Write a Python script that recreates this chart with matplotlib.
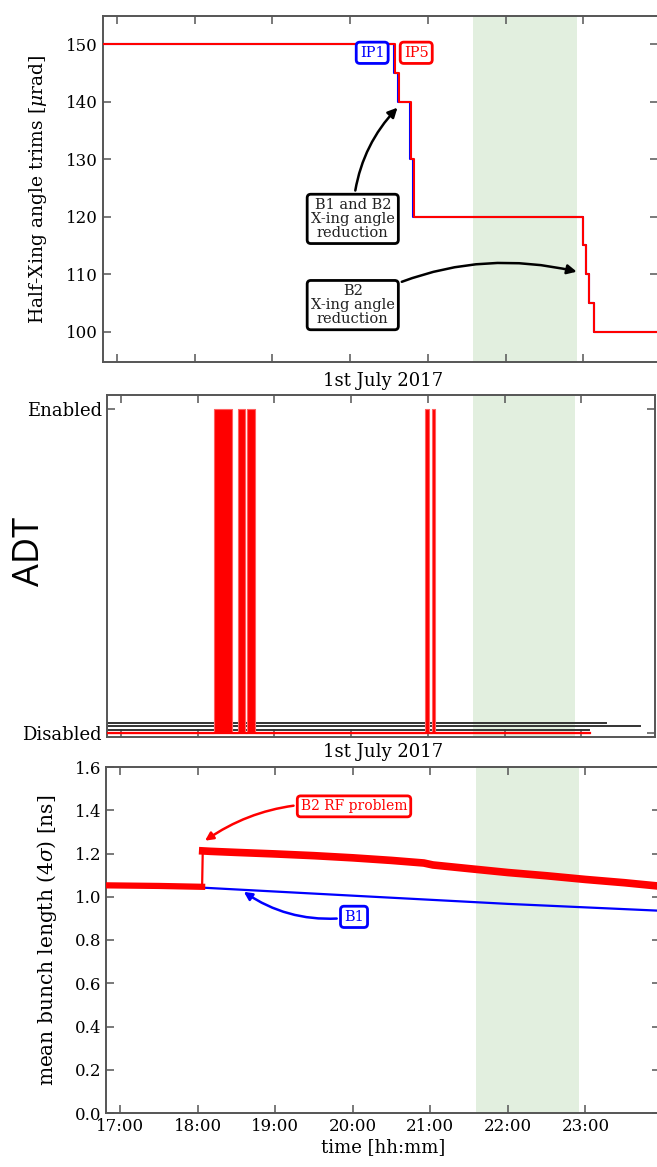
import matplotlib
matplotlib.use("Agg")
import matplotlib.pyplot as plt
import matplotlib.dates as mdates
import pandas as pd

plt.rcParams["font.family"] = ["DejaVu Serif"]
plt.rcParams["mathtext.fontset"] = "dejavuserif"

DAY = "2017-07-01 "


def T(lst):
    return pd.to_datetime([DAY + s for s in lst], format="mixed")


# ---------------- data ----------------
# Top panel: half crossing-angle trims [urad]
ip5_times = ["16:40:00", "20:34:20", "20:37:40", "20:46:50", "20:49:10",
             "23:00:00", "23:02:20", "23:04:40", "23:08:30", "23:59:59"]
ip5_vals = [150, 145, 140, 130, 120, 115, 110, 105, 100, 100]
ip1_times = ["16:40:00", "20:33:30", "20:37:00", "20:46:00", "20:48:30",
             "23:00:00", "23:02:20", "23:04:40", "23:08:30", "23:59:59"]
ip1_vals = [150, 145, 140, 130, 120, 115, 110, 105, 100, 100]

# Middle panel: ADT enabled intervals
adt_on = ["18:13:00", "18:31:40", "18:38:40", "20:57:30", "21:03:00"]
adt_off = ["18:27:00", "18:37:00", "18:44:50", "21:01:20", "21:06:00"]
adt_end = "23:07:00"
other_levels = [0.031, 0.022, 0.009]
other_ends = ["23:19:00", "23:46:00", "23:06:00"]
adt_ticks = [0, 1]
adt_ticklabels = ["Disabled", "Enabled"]

# Bottom panel: mean bunch length [ns]
b2_times = ["16:45:00", "17:30:00", "18:03:30", "18:04:00", "18:10:00", "18:30:00",
            "19:00:00", "19:30:00", "20:00:00", "20:30:00", "20:55:00", "21:02:00",
            "21:30:00", "22:00:00", "22:30:00", "23:00:00", "23:30:00", "23:59:00"]
b2_vals = [1.053, 1.050, 1.046, 1.212, 1.210, 1.205, 1.198, 1.190, 1.180,
           1.168, 1.156, 1.147, 1.130, 1.112, 1.097, 1.080, 1.065, 1.048]
JUMP = 3  # index where the B2 bunch length jumps
b1_times = ["16:45:00", "18:04:00", "20:00:00", "22:00:00", "23:59:00"]
b1_vals = [1.048, 1.042, 1.005, 0.967, 0.935]

band = ["21:35:00", "22:55:00"]
xlim = ["16:49:10", "23:57:40"]
hour_ticks = ["17:00:00", "18:00:00", "19:00:00", "20:00:00", "21:00:00",
              "22:00:00", "23:00:00"]

# ---------------- figure ----------------
W, H = 657, 1167
fig = plt.figure(figsize=(W / 100, H / 100), dpi=100)


def pos(l, r, t, b):
    return [l / W, 1 - b / H, (r - l) / W, (b - t) / H]


ax1 = fig.add_axes(pos(103, 658, 16, 362))
ax2 = fig.add_axes(pos(107, 655, 395, 737))
ax3 = fig.add_axes(pos(106, 660, 767, 1113))

SPC = "#555555"
for ax in (ax1, ax2, ax3):
    for s in ax.spines.values():
        s.set_color(SPC)
        s.set_linewidth(1.4)
    ax.tick_params(direction="in", top=True, right=True, length=6,
                   width=1.1, color=SPC, labelsize=12)
    ax.set_xlim(T(xlim))
    ax.set_xticks(T(hour_ticks))
    ax.xaxis.set_major_formatter(mdates.DateFormatter("%H:%M"))
    b = T(band)
    ax.axvspan(b[0], b[1], color="#e2efdf", zorder=0, lw=0)

# ---- top ----
ax1.step(T(ip1_times), ip1_vals, where="post", color="blue", lw=1.5, zorder=2)
ax1.step(T(ip5_times), ip5_vals, where="post", color="red", lw=1.5, zorder=3)
ax1.set_ylim(94.7, 154.9)
ax1.set_yticks([100, 110, 120, 130, 140, 150])
ax1.tick_params(labelbottom=False)
ax1.set_ylabel(r"Half-Xing angle trims [$\mu$rad]", fontsize=13.5)
ax1.yaxis.set_label_coords(-0.098, 0.5)

box = dict(boxstyle="round,pad=0.25", fc="white", lw=2)
ax1.text(T(["20:17:00"])[0], 148.5, "IP1", color="blue", fontsize=10.5,
         ha="center", va="center", bbox=dict(box, ec="blue"))
ax1.text(T(["20:51:00"])[0], 148.5, "IP5", color="red", fontsize=10.5,
         ha="center", va="center", bbox=dict(box, ec="red"))
ax1.annotate("B1 and B2\nX-ing angle\nreduction",
             xy=(T(["20:38:00"])[0], 139.3), xytext=(T(["20:02:00"])[0], 119.6),
             fontsize=10.5, ha="center", va="center", color="#222222",
             linespacing=1.0, bbox=dict(box, ec="black"),
             arrowprops=dict(arrowstyle="-|>", color="black", lw=1.8,
                             mutation_scale=14,
                             connectionstyle="arc3,rad=-0.2"))
ax1.annotate("B2\nX-ing angle\nreduction",
             xy=(T(["22:57:00"])[0], 110.3), xytext=(T(["20:02:00"])[0], 104.6),
             fontsize=10.5, ha="center", va="center", color="#222222",
             linespacing=1.0, bbox=dict(box, ec="black"),
             arrowprops=dict(arrowstyle="-|>", color="black", lw=1.8,
                             mutation_scale=14,
                             connectionstyle="arc3,rad=-0.2"))

# ---- middle ----
t_on = T(adt_on)
t_off = T(adt_off)
ts = [T([xlim[0]])[0]]
st = [0]
for a, b_ in zip(t_on, t_off):
    ts += [a, b_]
    st += [1, 0]
ts.append(T([adt_end])[0])
st.append(0)
ax2.fill_between(ts, 0, st, step="post", color="red", lw=0.8, ec="#ff6060",
                 zorder=3)
for lvl, e in zip(other_levels, other_ends):
    ax2.plot(T([xlim[0], e]), [lvl, lvl], color="#333333", lw=1.4, zorder=2)
ax2.plot(T([xlim[0], adt_end]), [0, 0], color="red", lw=1.6, zorder=4)
ax2.set_ylim(-0.012, 1.043)
ax2.set_yticks(adt_ticks)
ax2.set_yticklabels(adt_ticklabels)
ax2.tick_params(labelbottom=False, labelsize=13)
fig.text(30 / W, 1 - 551 / H, "ADT", family=["Open Sans", "DejaVu Sans"],
         fontsize=26, rotation=90, ha="center", va="center")

fig.text(383 / W, 1 - 381 / H, "1st July 2017", fontsize=13,
         ha="center", va="center")
fig.text(383 / W, 1 - 752 / H, "1st July 2017", fontsize=13,
         ha="center", va="center")

# ---- bottom ----
tb2 = T(b2_times)
ax3.plot(T(b1_times), b1_vals, color="blue", lw=1.6, zorder=2)
ax3.plot(tb2[:JUMP], b2_vals[:JUMP], color="red", lw=4.5, zorder=3)
ax3.plot(tb2[JUMP - 1:JUMP + 1], b2_vals[JUMP - 1:JUMP + 1], color="red",
         lw=1.6, zorder=3)
ax3.plot(tb2[JUMP:], b2_vals[JUMP:], color="red", lw=5.5, zorder=3)
ax3.set_ylim(0, 1.6)
ax3.set_yticks([0.0, 0.2, 0.4, 0.6, 0.8, 1.0, 1.2, 1.4, 1.6])
ax3.yaxis.set_major_formatter(plt.FuncFormatter(lambda v, p: f"{v:.1f}"))
ax3.set_ylabel(r"mean bunch length (4$\sigma$) [ns]", fontsize=14.5)
ax3.yaxis.set_label_coords(-0.085, 0.5)
ax3.set_xlabel("time [hh:mm]", fontsize=13, labelpad=2)

ax3.annotate("B2 RF problem", xy=(T(["18:04:00"])[0], 1.252),
             xytext=(T(["20:01:00"])[0], 1.418), fontsize=10, color="red",
             ha="center", va="center", bbox=dict(box, ec="red"),
             arrowprops=dict(arrowstyle="-|>", color="red", lw=1.8,
                             mutation_scale=12,
                             connectionstyle="arc3,rad=0.2"))
ax3.annotate("B1", xy=(T(["18:34:00"])[0], 1.03),
             xytext=(T(["20:01:00"])[0], 0.907), fontsize=10.5, color="blue",
             ha="center", va="center", bbox=dict(box, ec="blue"),
             arrowprops=dict(arrowstyle="-|>", color="blue", lw=1.8,
                             mutation_scale=12,
                             connectionstyle="arc3,rad=-0.2"))

fig.savefig("out.png", dpi=100)
